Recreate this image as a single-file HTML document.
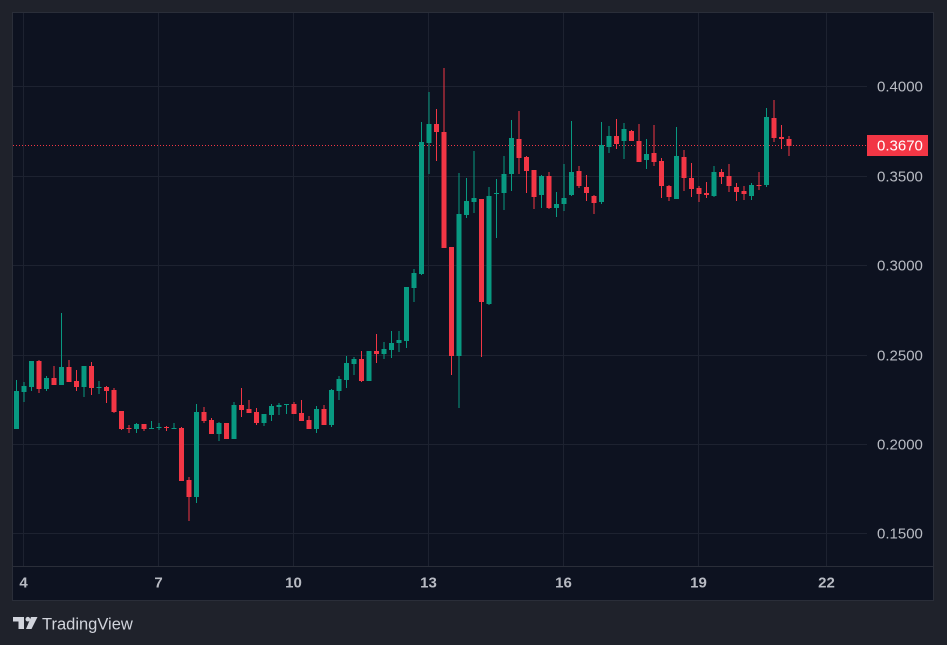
<!DOCTYPE html>
<html><head><meta charset="utf-8"><style>
html,body{margin:0;padding:0;background:#1f222b;}
svg{display:block;}
</style></head><body>
<svg width="947" height="645" viewBox="0 0 947 645" xmlns="http://www.w3.org/2000/svg">
<rect x="0" y="0" width="947" height="645" fill="#1f222b"/>
<rect x="12.5" y="12.5" width="921" height="588" fill="#0d1220" stroke="#2a2e39" stroke-width="1"/>
<g stroke="#1d2230" stroke-width="1" shape-rendering="crispEdges">
<line x1="13" y1="86.5" x2="867" y2="86.5"/>
<line x1="13" y1="176.5" x2="867" y2="176.5"/>
<line x1="13" y1="265.5" x2="867" y2="265.5"/>
<line x1="13" y1="355.5" x2="867" y2="355.5"/>
<line x1="13" y1="444.5" x2="867" y2="444.5"/>
<line x1="13" y1="533.5" x2="867" y2="533.5"/>
<line x1="23.5" y1="13" x2="23.5" y2="566"/>
<line x1="158.5" y1="13" x2="158.5" y2="566"/>
<line x1="293.5" y1="13" x2="293.5" y2="566"/>
<line x1="428.5" y1="13" x2="428.5" y2="566"/>
<line x1="563.5" y1="13" x2="563.5" y2="566"/>
<line x1="698.5" y1="13" x2="698.5" y2="566"/>
<line x1="826.5" y1="13" x2="826.5" y2="566"/>
</g>
<line x1="13" y1="566.5" x2="933" y2="566.5" stroke="#2a2e39" stroke-width="1" shape-rendering="crispEdges"/>
<line x1="13" y1="145.5" x2="867" y2="145.5" stroke="#f23645" stroke-width="1" stroke-dasharray="1 2"/>

<g shape-rendering="crispEdges">
<g fill="#089981">
<rect x="16" y="380" width="1" height="49"/><rect x="14" y="391" width="5" height="38"/>
<rect x="23.5" y="382" width="1" height="20"/><rect x="21.5" y="386" width="5" height="6"/>
<rect x="31" y="361" width="1" height="30"/><rect x="29" y="361" width="5" height="26"/>
<rect x="46" y="376" width="1" height="15"/><rect x="44" y="378" width="5" height="11"/>
<rect x="61" y="313" width="1" height="72"/><rect x="59" y="367" width="5" height="18"/>
<rect x="83.5" y="366" width="1" height="31"/><rect x="81.5" y="366" width="5" height="21"/>
<rect x="98.5" y="381" width="1" height="13"/><rect x="96.5" y="387" width="5" height="1"/>
<rect x="136" y="423" width="1" height="10"/><rect x="134" y="424" width="5" height="5"/>
<rect x="151" y="421" width="1" height="8"/><rect x="149" y="428" width="5" height="1"/>
<rect x="158.5" y="423" width="1" height="7"/><rect x="156.5" y="427" width="5" height="1"/>
<rect x="173.5" y="423" width="1" height="6"/><rect x="171.5" y="428" width="5" height="1"/>
<rect x="196" y="404" width="1" height="99"/><rect x="194" y="412" width="5" height="85"/>
<rect x="218.5" y="422" width="1" height="19"/><rect x="216.5" y="423" width="5" height="11"/>
<rect x="233.5" y="402" width="1" height="37"/><rect x="231.5" y="405" width="5" height="34"/>
<rect x="263.5" y="414" width="1" height="12"/><rect x="261.5" y="414" width="5" height="9"/>
<rect x="271" y="404" width="1" height="17"/><rect x="269" y="406" width="5" height="9"/>
<rect x="278.5" y="403" width="1" height="12"/><rect x="276.5" y="405" width="5" height="2"/>
<rect x="286" y="404" width="1" height="10"/><rect x="284" y="404" width="5" height="1"/>
<rect x="316" y="406" width="1" height="27"/><rect x="314" y="409" width="5" height="20"/>
<rect x="331" y="389" width="1" height="38"/><rect x="329" y="390" width="5" height="35"/>
<rect x="338.5" y="376" width="1" height="24"/><rect x="336.5" y="379" width="5" height="12"/>
<rect x="346" y="356" width="1" height="32"/><rect x="344" y="363" width="5" height="17"/>
<rect x="353.5" y="357" width="1" height="18"/><rect x="351.5" y="359" width="5" height="5"/>
<rect x="368.5" y="351" width="1" height="30"/><rect x="366.5" y="351" width="5" height="30"/>
<rect x="383.5" y="342" width="1" height="17"/><rect x="381.5" y="349" width="5" height="5"/>
<rect x="391" y="331" width="1" height="27"/><rect x="389" y="343" width="5" height="7"/>
<rect x="398.5" y="331" width="1" height="21"/><rect x="396.5" y="340" width="5" height="3"/>
<rect x="406" y="287" width="1" height="61"/><rect x="404" y="287" width="5" height="54"/>
<rect x="413.5" y="269" width="1" height="33"/><rect x="411.5" y="273" width="5" height="15"/>
<rect x="421" y="122" width="1" height="153"/><rect x="419" y="142" width="5" height="132"/>
<rect x="428.5" y="92" width="1" height="82"/><rect x="426.5" y="124" width="5" height="19"/>
<rect x="458.5" y="173" width="1" height="235"/><rect x="456.5" y="214" width="5" height="142"/>
<rect x="466" y="178" width="1" height="40"/><rect x="464" y="201" width="5" height="14"/>
<rect x="473.5" y="151" width="1" height="62"/><rect x="471.5" y="198" width="5" height="4"/>
<rect x="488.5" y="187" width="1" height="118"/><rect x="486.5" y="196" width="5" height="108"/>
<rect x="496" y="179" width="1" height="59"/><rect x="494" y="193" width="5" height="1"/>
<rect x="503.5" y="156" width="1" height="54"/><rect x="501.5" y="174" width="5" height="19"/>
<rect x="511" y="120" width="1" height="71"/><rect x="509" y="138" width="5" height="36"/>
<rect x="541" y="175" width="1" height="33"/><rect x="539" y="176" width="5" height="19"/>
<rect x="556" y="192" width="1" height="25"/><rect x="554" y="204" width="5" height="4"/>
<rect x="563.5" y="164" width="1" height="47"/><rect x="561.5" y="198" width="5" height="6"/>
<rect x="571" y="121" width="1" height="75"/><rect x="569" y="172" width="5" height="23"/>
<rect x="601" y="122" width="1" height="82"/><rect x="599" y="145" width="5" height="57"/>
<rect x="608.5" y="126" width="1" height="27"/><rect x="606.5" y="136" width="5" height="11"/>
<rect x="623.5" y="123" width="1" height="36"/><rect x="621.5" y="129" width="5" height="12"/>
<rect x="646" y="139" width="1" height="30"/><rect x="644" y="154" width="5" height="6"/>
<rect x="676" y="127" width="1" height="72"/><rect x="674" y="156" width="5" height="43"/>
<rect x="713.5" y="166" width="1" height="31"/><rect x="711.5" y="172" width="5" height="24"/>
<rect x="751" y="183" width="1" height="17"/><rect x="749" y="185" width="5" height="11"/>
<rect x="766" y="108" width="1" height="79"/><rect x="764" y="117" width="5" height="68"/>
</g>
<g fill="#f23645">
<rect x="38.5" y="360" width="1" height="33"/><rect x="36.5" y="361" width="5" height="28"/>
<rect x="53.5" y="366" width="1" height="19"/><rect x="51.5" y="378" width="5" height="7"/>
<rect x="68.5" y="360" width="1" height="22"/><rect x="66.5" y="367" width="5" height="15"/>
<rect x="76" y="370" width="1" height="21"/><rect x="74" y="381" width="5" height="6"/>
<rect x="91" y="362" width="1" height="33"/><rect x="89" y="366" width="5" height="22"/>
<rect x="106" y="386" width="1" height="17"/><rect x="104" y="387" width="5" height="4"/>
<rect x="113.5" y="388" width="1" height="25"/><rect x="111.5" y="390" width="5" height="22"/>
<rect x="121" y="411" width="1" height="19"/><rect x="119" y="411" width="5" height="18"/>
<rect x="128.5" y="425" width="1" height="8"/><rect x="126.5" y="428" width="5" height="1"/>
<rect x="143.5" y="424" width="1" height="7"/><rect x="141.5" y="424" width="5" height="5"/>
<rect x="166" y="426" width="1" height="5"/><rect x="164" y="427" width="5" height="1"/>
<rect x="181" y="427" width="1" height="54"/><rect x="179" y="428" width="5" height="53"/>
<rect x="188.5" y="477" width="1" height="44"/><rect x="186.5" y="480" width="5" height="17"/>
<rect x="203.5" y="407" width="1" height="16"/><rect x="201.5" y="412" width="5" height="9"/>
<rect x="211" y="418" width="1" height="16"/><rect x="209" y="420" width="5" height="14"/>
<rect x="226" y="423" width="1" height="16"/><rect x="224" y="423" width="5" height="16"/>
<rect x="241" y="388" width="1" height="29"/><rect x="239" y="405" width="5" height="5"/>
<rect x="248.5" y="400" width="1" height="13"/><rect x="246.5" y="409" width="5" height="4"/>
<rect x="256" y="408" width="1" height="17"/><rect x="254" y="412" width="5" height="11"/>
<rect x="293.5" y="402" width="1" height="12"/><rect x="291.5" y="404" width="5" height="10"/>
<rect x="301" y="400" width="1" height="21"/><rect x="299" y="413" width="5" height="8"/>
<rect x="308.5" y="416" width="1" height="13"/><rect x="306.5" y="420" width="5" height="9"/>
<rect x="323.5" y="405" width="1" height="20"/><rect x="321.5" y="409" width="5" height="16"/>
<rect x="361" y="351" width="1" height="31"/><rect x="359" y="359" width="5" height="22"/>
<rect x="376" y="334" width="1" height="29"/><rect x="374" y="351" width="5" height="3"/>
<rect x="436" y="109" width="1" height="52"/><rect x="434" y="124" width="5" height="8"/>
<rect x="443.5" y="68" width="1" height="180"/><rect x="441.5" y="132" width="5" height="116"/>
<rect x="451" y="247" width="1" height="128"/><rect x="449" y="247" width="5" height="109"/>
<rect x="481" y="199" width="1" height="158"/><rect x="479" y="199" width="5" height="103"/>
<rect x="518.5" y="111" width="1" height="63"/><rect x="516.5" y="139" width="5" height="19"/>
<rect x="526" y="156" width="1" height="37"/><rect x="524" y="157" width="5" height="14"/>
<rect x="533.5" y="170" width="1" height="39"/><rect x="531.5" y="170" width="5" height="27"/>
<rect x="548.5" y="172" width="1" height="37"/><rect x="546.5" y="176" width="5" height="32"/>
<rect x="578.5" y="166" width="1" height="22"/><rect x="576.5" y="171" width="5" height="15"/>
<rect x="586" y="175" width="1" height="26"/><rect x="584" y="187" width="5" height="6"/>
<rect x="593.5" y="195" width="1" height="19"/><rect x="591.5" y="196" width="5" height="7"/>
<rect x="616" y="119" width="1" height="30"/><rect x="614" y="136" width="5" height="8"/>
<rect x="631" y="130" width="1" height="11"/><rect x="629" y="131" width="5" height="10"/>
<rect x="638.5" y="124" width="1" height="38"/><rect x="636.5" y="141" width="5" height="21"/>
<rect x="653.5" y="125" width="1" height="41"/><rect x="651.5" y="153" width="5" height="9"/>
<rect x="661" y="158" width="1" height="40"/><rect x="659" y="161" width="5" height="25"/>
<rect x="668.5" y="185" width="1" height="16"/><rect x="666.5" y="186" width="5" height="11"/>
<rect x="683.5" y="150" width="1" height="41"/><rect x="681.5" y="157" width="5" height="21"/>
<rect x="691" y="163" width="1" height="34"/><rect x="689" y="178" width="5" height="11"/>
<rect x="698.5" y="186" width="1" height="16"/><rect x="696.5" y="188" width="5" height="6"/>
<rect x="706" y="182" width="1" height="16"/><rect x="704" y="193" width="5" height="2"/>
<rect x="721" y="169" width="1" height="15"/><rect x="719" y="172" width="5" height="5"/>
<rect x="728.5" y="164" width="1" height="28"/><rect x="726.5" y="176" width="5" height="10"/>
<rect x="736" y="183" width="1" height="18"/><rect x="734" y="187" width="5" height="5"/>
<rect x="743.5" y="186" width="1" height="14"/><rect x="741.5" y="191" width="5" height="3"/>
<rect x="758.5" y="172" width="1" height="18"/><rect x="756.5" y="185" width="5" height="1"/>
<rect x="773.5" y="100" width="1" height="42"/><rect x="771.5" y="118" width="5" height="20"/>
<rect x="781" y="125" width="1" height="24"/><rect x="779" y="137" width="5" height="2"/>
<rect x="788.5" y="136" width="1" height="20"/><rect x="786.5" y="139" width="5" height="7"/>
</g>
</g>

<g font-family="Liberation Sans, sans-serif" font-size="15" fill="#b8bbc3" dominant-baseline="central">
<text x="877" y="87">0.4000</text>
<text x="877" y="177">0.3500</text>
<text x="877" y="266">0.3000</text>
<text x="877" y="356">0.2500</text>
<text x="877" y="445">0.2000</text>
<text x="877" y="534">0.1500</text>
</g>
<rect x="867" y="135" width="61" height="21" fill="#f23645"/>
<text x="877" y="146" font-family="Liberation Sans, sans-serif" font-size="15" fill="#ffffff" dominant-baseline="central">0.3670</text>

<g font-family="Liberation Sans, sans-serif" font-size="15" font-weight="bold" fill="#b8bbc3" text-anchor="middle" dominant-baseline="central">
<text x="23.5" y="583">4</text>
<text x="158.5" y="583">7</text>
<text x="293.5" y="583">10</text>
<text x="428.5" y="583">13</text>
<text x="563.5" y="583">16</text>
<text x="698.5" y="583">19</text>
<text x="826.5" y="583">22</text>
</g>

<g fill="#d1d4dc">
<rect x="13" y="617" width="11" height="4.5"/>
<rect x="18.5" y="617" width="5.5" height="12"/>
<circle cx="27.8" cy="619.2" r="2.3"/>
<polygon points="31,617 37.5,617 31.5,629 26,629"/>
</g>
<text x="42" y="629.5" font-family="Liberation Sans, sans-serif" font-size="16.5" fill="#d1d4dc">TradingView</text>
</svg>
</body></html>
